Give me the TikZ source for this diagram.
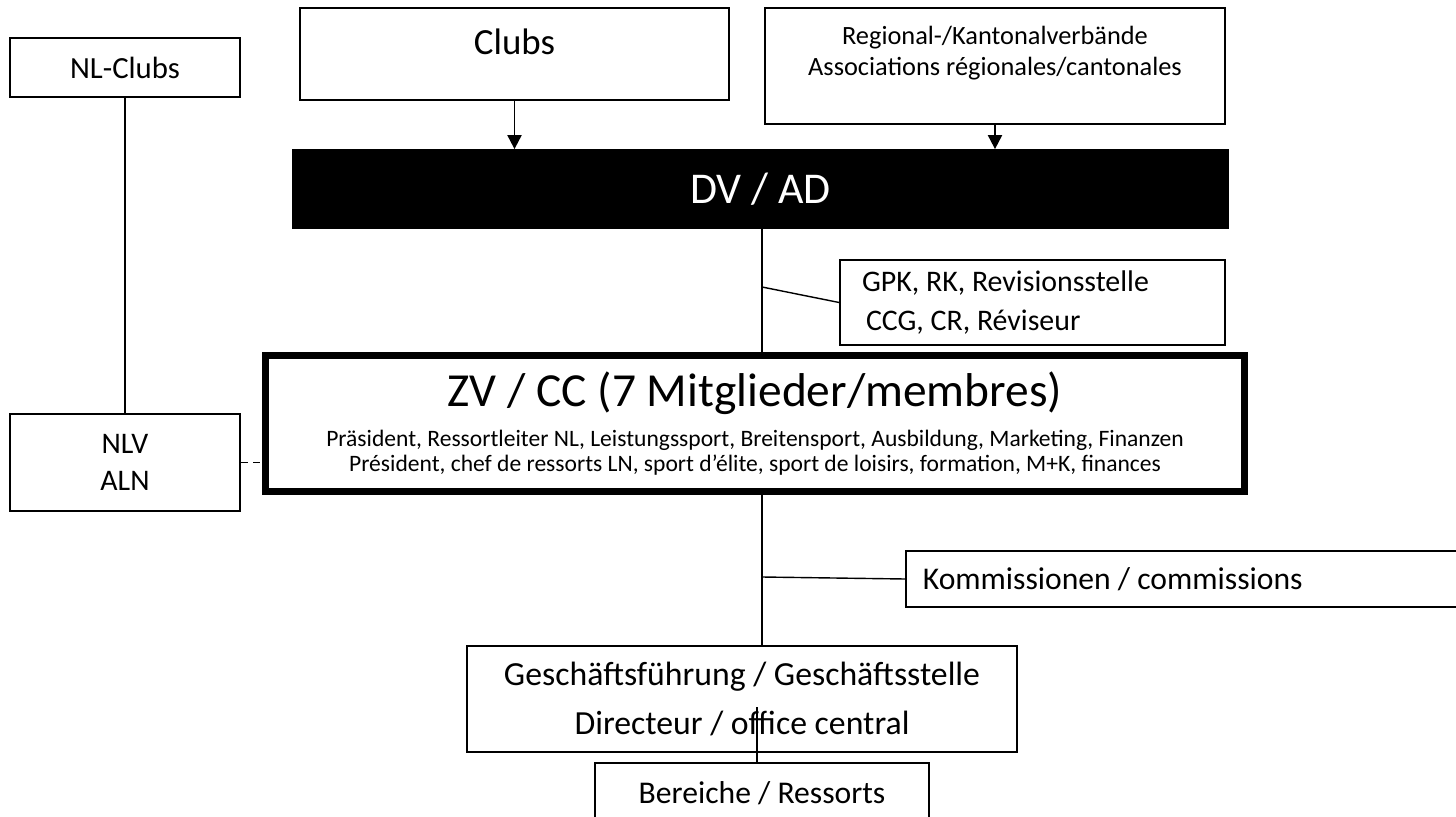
\documentclass[tikz,border=0pt]{standalone}
\usepackage{fontspec}
\setmainfont{Carlito}
\usepackage{tikz}
\usetikzlibrary{arrows.meta,positioning}
\tikzstyle{box}=[draw,line width=1pt,rectangle,inner sep=0pt,align=center]
\tikzstyle{link}=[line width=0.8pt]
\tikzstyle{arr}=[line width=1.1pt,-{Triangle[width=8pt,length=8pt]}]
\newcommand{\szhuge}{\fontsize{27}{32}\selectfont}
\newcommand{\szbig}{\fontsize{25}{30}\selectfont}
\newcommand{\szmed}{\fontsize{19.2}{28}\selectfont}
\newcommand{\sznorm}{\fontsize{17.5}{21}\selectfont}
\newcommand{\szsmall}{\fontsize{15}{17.5}\selectfont}
\newcommand{\sztiny}{\fontsize{13.4}{14.2}\selectfont}

\begin{document}
\begin{tikzpicture}
  \useasboundingbox (0,0) rectangle (29.12,-16.34);
  \clip (0,0) rectangle (29.12,-16.34);
  % top row
  \node[box,minimum width=4.6cm,minimum height=1.18cm,font=\sznorm] (nlclubs) at (2.5,-1.35) {NL-Clubs};
  \node[box,minimum width=8.58cm,minimum height=1.84cm,font=\fontsize{21}{25}\selectfont,text depth=0.48cm] (clubs) at (10.29,-1.08) {Clubs};
  \node[box,minimum width=9.2cm,minimum height=2.32cm,font=\szsmall,text depth=0.6cm] (regional) at (19.9,-1.32) {Regional-/Kantonalverbände\\Associations régionales/cantonales};
  % assembly
  \node[box,fill=black,text=white,minimum width=18.7cm,minimum height=1.56cm,font=\szbig] (dv) at (15.21,-3.78) {DV / AD};
  \node[box,minimum height=1.7cm,text width=6.82cm,inner xsep=0.44cm,align=flush left,font=\fontsize{17}{22}\selectfont] (gpk) at (20.65,-6.05) {GPK, RK, Revisionsstelle\\\hspace{0.08cm}CCG, CR, Réviseur};
  % central committee
  \node[box,line width=4.2pt,minimum width=19.57cm,minimum height=2.71cm,font=\sztiny] (zv) at (15.1,-8.47)
    {{\szhuge ZV / CC (7 Mitglieder/membres)}\\[9pt]
     Präsident, Ressortleiter NL, Leistungssport, Breitensport, Ausbildung, Marketing, Finanzen\\
     Président, chef de ressorts LN, sport d’élite, sport de loisirs, formation, M+K, finances};
  \node[box,minimum width=4.6cm,minimum height=1.94cm,font=\fontsize{17}{21}\selectfont] (nlv) at (2.5,-9.25) {NLV\\ALN};
  \node[box,anchor=west,minimum height=1.12cm,text width=11.3cm,inner xsep=0.34cm,align=flush left,font=\fontsize{18}{22}\selectfont] (komm) at (18.1,-11.58) {Kommissionen / commissions};
  \node[box,minimum width=11cm,minimum height=2.12cm,font=\szmed] (gf) at (14.84,-13.98) {Geschäftsführung / Geschäftsstelle\\Directeur / office central};
  \node[box,minimum width=6.68cm,minimum height=1.2cm,font=\fontsize{18}{22}\selectfont] (ber) at (15.24,-15.86) {Bereiche / Ressorts};

  \coordinate (t1) at (15.24,-5.74);
  \coordinate (t2) at (15.24,-11.54);
  \coordinate (t3) at (15.14,-14.14);

  \draw[arr] (clubs.south) -- (clubs.south |- dv.north);
  \draw[arr] (regional.south) -- (regional.south |- dv.north);
  \draw[link] (t1 |- dv.south) -- (t1 |- zv.north);
  \draw[link] (t1) -- (gpk.west);
  \draw[link] (nlclubs) -- (nlv);
  \draw[link,line width=1pt,dash pattern=on 4pt off 3pt] (nlv.east) -- (nlv.east -| zv.west);
  \draw[link] (t2 |- zv.south) -- (t2 |- gf.north);
  \draw[link] (t2) -- (komm.west);
  \draw[link] (t3) -- (t3 |- ber.north);
\end{tikzpicture}
\end{document}
